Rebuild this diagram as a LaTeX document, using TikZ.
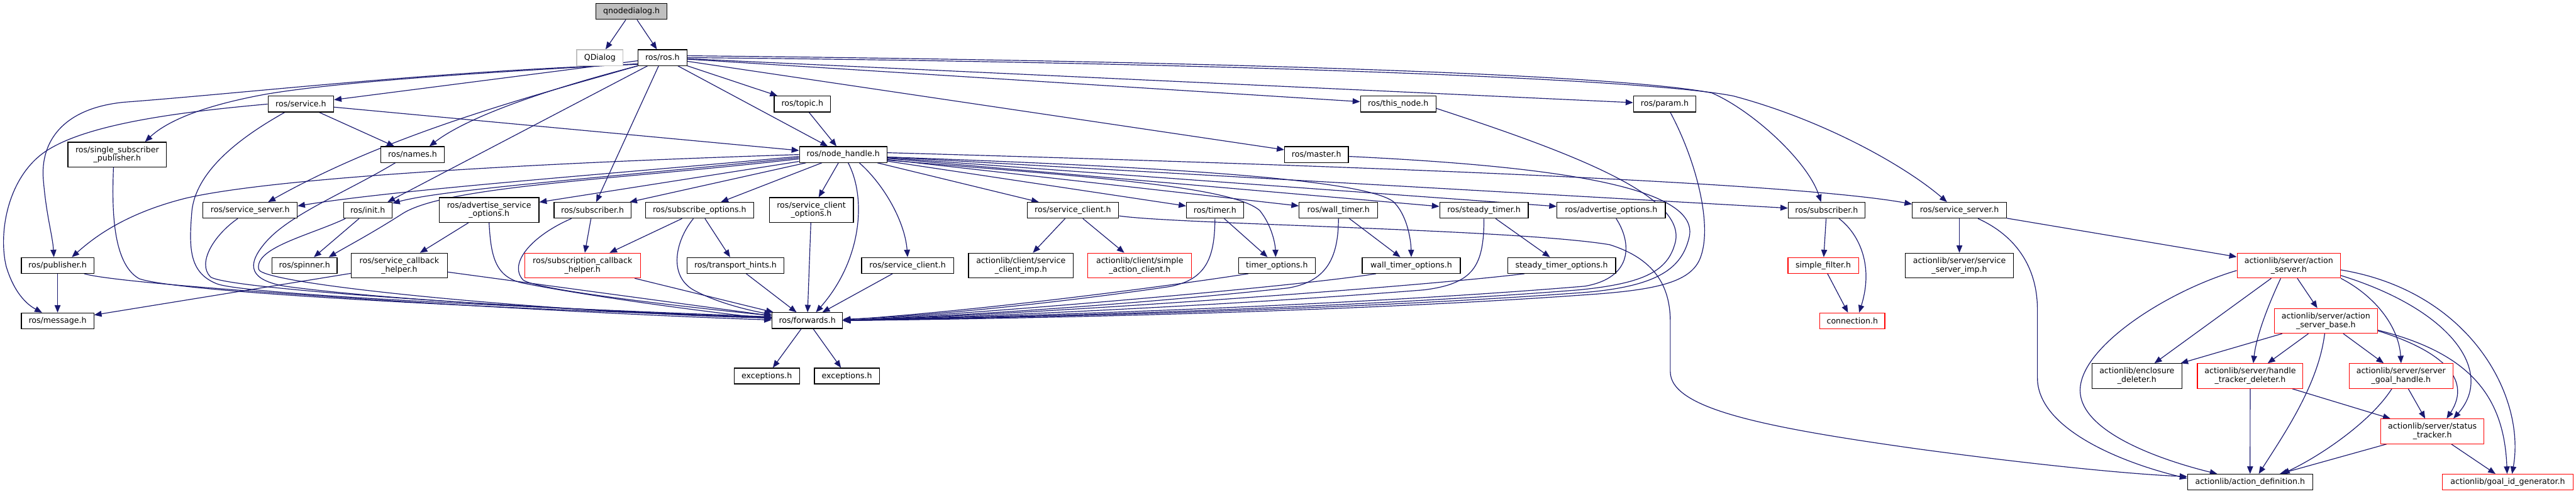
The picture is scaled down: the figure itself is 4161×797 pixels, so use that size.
\documentclass[tikz,border=0pt]{standalone}
\usepackage{fontspec}
\setmainfont{DejaVu Sans}
\usetikzlibrary{arrows.meta}
\definecolor{edgec}{HTML}{191970}
\definecolor{grayc}{HTML}{BFBFBF}
\pgfdeclarelayer{bg}
\pgfsetlayers{bg,main}
\begin{document}
\begin{tikzpicture}[x=1pt,y=-1pt,
 box/.style={draw=black,line width=1.2pt,fill=white,inner sep=0pt,minimum height=25.5pt,align=center,font=\fontsize{12.8pt}{14pt}\selectfont},
 two/.style={minimum height=40pt},
 trunc/.style={draw=red},
 ext/.style={draw=grayc},
 cur/.style={fill=grayc},
 edge/.style={draw=edgec,line width=1.2pt,-{Triangle[length=12pt,width=9.5pt]}}]
\useasboundingbox (0,0) rectangle (4161,797);
% row 0-2
\node[box,cur,minimum width=115pt] (qn) at (1020,18.5) {qnodedialog.h};
\node[box,ext,minimum width=75pt] (qd) at (969,93) {QDialog};
\node[box,minimum width=79pt] (ros) at (1070,93) {ros/ros.h};
\node[box,minimum width=106pt] (svc) at (486,168) {ros/service.h};
\node[box,minimum width=91pt] (topic) at (1296,168) {ros/topic.h};
\node[box,minimum width=122pt] (thisnode) at (2258.5,168) {ros/this\_node.h};
\node[box,minimum width=101pt] (param) at (2689,168) {ros/param.h};
% row 3
\node[box,two,minimum width=159pt] (sspub) at (189.3,249.5) {ros/single\_subscriber\\\_publisher.h};
\node[box,minimum width=103pt] (names) at (666.5,249.5) {ros/names.h};
\node[box,minimum width=141.5pt] (nh) at (1362,249.5) {ros/node\_handle.h};
\node[box,minimum width=103pt] (master) at (2126.5,249.5) {ros/master.h};
% row 4
\node[box,minimum width=152pt] (ssL) at (404,339.5) {ros/service\_server.h};
\node[box,minimum width=78.5pt] (init) at (594,339.5) {ros/init.h};
\node[box,two,minimum width=161pt] (aso) at (790,339) {ros/advertise\_service\\\_options.h};
\node[box,minimum width=124pt] (subL) at (957,339.5) {ros/subscriber.h};
\node[box,minimum width=175pt] (subopt) at (1130,339.5) {ros/subscribe\_options.h};
\node[box,two,minimum width=136pt] (sco) at (1310.5,339) {ros/service\_client\\\_options.h};
\node[box,minimum width=148pt] (scU) at (1733,339.5) {ros/service\_client.h};
\node[box,minimum width=92pt] (timer) at (1962.5,339.5) {ros/timer.h};
\node[box,minimum width=127pt] (wt) at (2162,339.5) {ros/wall\_timer.h};
\node[box,minimum width=143pt] (st) at (2397,339.5) {ros/steady\_timer.h};
\node[box,minimum width=175pt] (ao) at (2602.5,339.5) {ros/advertise\_options.h};
\node[box,minimum width=124pt] (subR) at (2950.5,339.5) {ros/subscriber.h};
\node[box,minimum width=152pt] (ssR) at (3165,339.5) {ros/service\_server.h};
% row 5
\node[box,minimum width=117pt] (pub) at (93,428.5) {ros/publisher.h};
\node[box,minimum width=105pt] (spin) at (492,428.5) {ros/spinner.h};
\node[box,two,minimum width=155pt] (scbh) at (645,428.7) {ros/service\_callback\\\_helper.h};
\node[box,two,trunc,minimum width=186.6pt] (subcbh) at (941,428.7) {ros/subscription\_callback\\\_helper.h};
\node[box,minimum width=156pt] (th) at (1188,428.5) {ros/transport\_hints.h};
\node[box,minimum width=148.6pt] (scL) at (1466,428.5) {ros/service\_client.h};
\node[box,two,minimum width=169pt] (scimp) at (1649,428.7) {actionlib/client/service\\\_client\_imp.h};
\node[box,two,trunc,minimum width=167.4pt] (sac) at (1841,428.7) {actionlib/client/simple\\\_action\_client.h};
\node[box,minimum width=124pt] (to) at (2062.5,428.5) {timer\_options.h};
\node[box,minimum width=158.5pt] (wto) at (2279.6,428.5) {wall\_timer\_options.h};
\node[box,minimum width=174.5pt] (sto) at (2522.5,428.5) {steady\_timer\_options.h};
\node[box,trunc,minimum width=114pt] (sf) at (2945,428.5) {simple\_filter.h};
\node[box,two,minimum width=175pt] (ssimp) at (3165,428.7) {actionlib/server/service\\\_server\_imp.h};
\node[box,two,trunc,minimum width=167pt] (as) at (3697,428.7) {actionlib/server/action\\\_server.h};
% row 6
\node[box,minimum width=117pt] (msg) at (93,518) {ros/message.h};
\node[box,minimum width=114pt] (fwd) at (1304,517.5) {ros/forwards.h};
\node[box,trunc,minimum width=105pt] (conn) at (2992,518) {connection.h};
\node[box,two,trunc,minimum width=166.5pt] (asb) at (3757,518) {actionlib/server/action\\\_server\_base.h};
% row 7
\node[box,minimum width=106pt] (exc1) at (1238.6,607) {exceptions.h};
\node[box,minimum width=105pt] (exc2) at (1368,607) {exceptions.h};
\node[box,two,minimum width=145.4pt] (encl) at (3451.7,607) {actionlib/enclosure\\\_deleter.h};
\node[box,two,trunc,minimum width=170.5pt] (htd) at (3634.7,607) {actionlib/server/handle\\\_tracker\_deleter.h};
\node[box,two,trunc,minimum width=168pt] (sgh) at (3878.4,607) {actionlib/server/server\\\_goal\_handle.h};
% row 8-9
\node[box,two,trunc,minimum width=166.5pt] (stt) at (3929,696.3) {actionlib/server/status\\\_tracker.h};
\node[box,minimum width=202pt] (ad) at (3634.5,778.3) {actionlib/action\_definition.h};
\node[box,trunc,minimum width=210.7pt] (gid) at (4050.7,778.3) {actionlib/goal\_id\_generator.h};

\begin{pgfonlayer}{bg}
\draw[edge] (qn) -- (qd);
\draw[edge] (qn) -- (ros);
% ros.h
\draw[edge] (ros) -- (svc);
\draw[edge] ([yshift=-10pt]ros.west) .. controls (820,115) and (560,130) .. (430,152) .. controls (330,170) and (270,195) .. ([xshift=45pt]sspub.north);
\draw[edge] ([yshift=-11pt]ros.west) .. controls (700,115) and (400,150) .. (200,165) .. controls (100,175) and (65,230) .. (70,290) .. controls (75,350) and (85,380) .. ([xshift=-6pt]pub.north);
\draw[edge] (ros.south west) .. controls (900,140) and (760,185) .. ([xshift=27pt]names.north);
\draw[edge] (ros.south west) .. controls (880,150) and (640,210) .. ([xshift=29pt]ssL.north);
\draw[edge] ([xshift=-24pt]ros.south) -- ([xshift=32pt]init.north);
\draw[edge] (ros) -- (subL);
\draw[edge] (ros) -- (nh);
\draw[edge] (ros) -- (topic);
\draw[edge] (topic) -- (nh);
\draw[edge] (ros) -- (master);
\draw[edge] (ros) -- (thisnode);
\draw[edge] (ros) -- (param);
\draw[edge] ([yshift=3pt]ros.east) .. controls (1900,98) and (2600,118) .. (2765,150) .. controls (2830,178) and (2920,260) .. ([xshift=-9pt]subR.north);
\draw[edge] (ros.east) .. controls (1900,100) and (2650,125) .. (2800,155) .. controls (2950,195) and (3080,270) .. ([xshift=-20pt]ssR.north);
% service.h
\draw[edge] (svc.west) .. controls (300,180) and (120,200) .. (60,255) .. controls (10,300) and (-2,380) .. (10,430) .. controls (25,480) and (50,495) .. ([xshift=-25pt]msg.north);
\draw[edge] (svc) -- (names);
\draw[edge] (svc) -- (nh);
\draw[edge] ([xshift=-26pt]svc.south) .. controls (400,215) and (318,270) .. (310,340) .. controls (305,400) and (305,440) .. (350,458) .. controls (400,478) and (1000,502) .. ([yshift=6pt]fwd.west);
% left bundle into forwards
\draw[edge] ([xshift=-6pt]sspub.south) .. controls (181,330) and (180,425) .. (225,450) .. controls (300,475) and (900,502) .. ([yshift=5pt]fwd.west);
\draw[edge] ([xshift=-28pt]names.south) .. controls (560,310) and (470,345) .. (430,390) .. controls (395,430) and (405,452) .. (460,462) .. controls (650,488) and (1050,505) .. ([yshift=4pt]fwd.west);
\draw[edge] ([xshift=-20pt]ssL.south) .. controls (345,380) and (318,425) .. (340,447) .. controls (370,470) and (1000,505) .. ([yshift=5pt]fwd.west);
\draw[edge] ([xshift=-36pt]init.south) .. controls (500,380) and (410,400) .. (418,435) .. controls (425,460) and (900,505) .. ([yshift=4pt]fwd.west);
\draw[edge] ([xshift=-14pt]init.south) -- ([xshift=15pt]spin.north);
\draw[edge] (pub) -- (msg);
\draw[edge] ([xshift=43pt]pub.south) .. controls (200,462) and (900,505) .. ([yshift=1pt]fwd.west);
\draw[edge] (scbh) -- (msg);
\draw[edge] (scbh) -- (fwd);
\draw[edge] (aso) -- (scbh);
\draw[edge] (aso.south) .. controls (793,415) and (800,450) .. (850,458) .. controls (950,478) and (1150,505) .. ([yshift=3pt]fwd.west);
\draw[edge] (subL) -- (subcbh);
\draw[edge] ([xshift=-34pt]subL.south) .. controls (860,380) and (820,425) .. (845,452) .. controls (870,470) and (1150,500) .. ([yshift=8pt]fwd.west);
\draw[edge] (subopt) -- (subcbh);
\draw[edge] (subopt) -- (th);
\draw[edge] ([xshift=-10pt]subopt.south) .. controls (1090,390) and (1080,445) .. (1120,468) .. controls (1160,490) and (1215,502) .. ([yshift=10pt]fwd.west);
\draw[edge] (subcbh) -- (fwd);
\draw[edge] (th) -- (fwd);
\draw[edge] (sco) -- (fwd);
\draw[edge] (scL) -- (fwd);
\draw[edge] (fwd) -- (exc1);
\draw[edge] (fwd) -- (exc2);
% node_handle.h
\draw[edge] ([xshift=8pt]nh.south) .. controls (1400,320) and (1392,420) .. ([xshift=14pt]fwd.north);
\draw[edge] (nh.west) .. controls (900,262) and (450,285) .. (300,320) .. controls (200,345) and (150,385) .. ([xshift=23pt]pub.north);
\draw[edge] ([yshift=-3pt]nh.west) .. controls (1000,280) and (650,305) .. ([yshift=7pt]ssL.east);
\draw[edge] ([yshift=-5pt]nh.west) .. controls (1000,285) and (720,305) .. ([yshift=-2pt]init.north east);
\draw[edge] ([yshift=-7pt]nh.west) .. controls (1000,290) and (720,300) .. (650,345) .. controls (600,377) and (560,398) .. ([xshift=39pt]spin.north);
\draw[edge] (nh) -- (aso);
\draw[edge] (nh) -- (subL);
\draw[edge] (nh) -- (subopt);
\draw[edge] (nh) -- (sco);
\draw[edge] ([xshift=26pt]nh.south) .. controls (1430,300) and (1462,360) .. (scL.north);
\draw[edge] (nh) -- (scU);
\draw[edge] (nh) -- (timer);
\draw[edge] ([yshift=-9pt]nh.east) .. controls (1750,285) and (1990,300) .. (2035,340) .. controls (2055,365) and (2060,395) .. ([xshift=-2pt]to.north);
\draw[edge] (nh) -- (wt);
\draw[edge] ([yshift=-4pt]nh.east) .. controls (1900,270) and (2200,290) .. (2250,325) .. controls (2272,345) and (2279,385) .. (wto.north);
\draw[edge] (nh) -- (st);
\draw[edge] (nh) -- (ao);
\draw[edge] (nh) -- (subR);
\draw[edge] ([yshift=3pt]nh.east) .. controls (2200,268) and (2900,295) .. ([yshift=10pt]ssR.west);
% right bundle into forwards
\draw[edge] (timer) -- (to);
\draw[edge] (timer.south) .. controls (1962,415) and (1950,455) .. (1880,464) .. controls (1700,490) and (1500,510) .. ([yshift=2pt]fwd.east);
\draw[edge] ([xshift=-46pt]to.south) .. controls (1900,460) and (1600,500) .. ([yshift=1pt]fwd.east);
\draw[edge] (wt) -- (wto);
\draw[edge] (wt.south) .. controls (2162,420) and (2140,455) .. (2080,465) .. controls (1800,495) and (1500,512) .. (fwd.east);
\draw[edge] ([xshift=-57pt]wto.south) .. controls (2100,462) and (1600,505) .. (fwd.east);
\draw[edge] (st) -- (sto);
\draw[edge] (st.south) .. controls (2397,430) and (2380,458) .. (2300,468) .. controls (2000,492) and (1600,511) .. (fwd.east);
\draw[edge] ([xshift=-60pt]sto.south) .. controls (2300,462) and (1700,506) .. (fwd.east);
\draw[edge] ([xshift=8pt]ao.south) .. controls (2635,390) and (2640,448) .. (2560,462) .. controls (2200,492) and (1700,509) .. (fwd.east);
\draw[edge] ([yshift=-7pt]thisnode.east) .. controls (2550,250) and (2730,320) .. (2705,395) .. controls (2692,440) and (2650,458) .. (2550,468) .. controls (2200,496) and (1700,511) .. (fwd.east);
\draw[edge] ([yshift=-3pt]master.east) .. controls (2500,268) and (2752,300) .. (2728,385) .. controls (2716,432) and (2680,462) .. (2560,472) .. controls (2200,499) and (1700,512) .. (fwd.east);
\draw[edge] ([xshift=9pt]param.south) .. controls (2740,260) and (2765,360) .. (2748,412) .. controls (2735,455) and (2680,468) .. (2560,476) .. controls (2200,502) and (1700,514) .. (fwd.east);
% actionlib service_client
\draw[edge] (scU) -- (scimp);
\draw[edge] (scU) -- (sac);
\draw[edge] ([yshift=-9pt]scU.east) .. controls (1900,362) and (2450,370) .. (2600,395) .. controls (2680,420) and (2698,470) .. (2698,520) -- (2698,600) .. controls (2698,660) and (2850,690) .. (3100,725) .. controls (3300,752) and (3450,766) .. ([yshift=9pt]ad.west);
% message_filters subscriber
\draw[edge] (subR) -- (sf);
\draw[edge] ([xshift=20pt]subR.south) .. controls (3000,375) and (3028,425) .. ([xshift=11pt]conn.north);
\draw[edge] (sf) -- (conn);
% actionlib service_server
\draw[edge] (ssR) -- (ssimp);
\draw[edge] ([xshift=30pt]ssR.south) .. controls (3255,380) and (3291,430) .. (3291,500) -- (3291,610) .. controls (3291,690) and (3420,745) .. ([yshift=6pt]ad.west);
\draw[edge] (ssR) -- (as);
% action_server
\draw[edge] (as) -- (encl);
\draw[edge] ([yshift=-8pt]as.west) .. controls (3500,470) and (3360,560) .. (3360,630) .. controls (3360,700) and (3500,745) .. ([xshift=-53pt]ad.north);
\draw[edge] ([xshift=-13pt]as.south) .. controls (3665,490) and (3645,540) .. ([xshift=5pt]htd.north);
\draw[edge] (as) -- (asb);
\draw[edge] (as.south east) .. controls (3840,480) and (3875,530) .. (sgh.north);
\draw[edge] ([yshift=-16pt]as.east) .. controls (3960,500) and (4030,600) .. ([xshift=34pt]stt.north);
\draw[edge] ([yshift=-7pt]as.east) .. controls (3990,470) and (4080,640) .. ([xshift=7pt]gid.north);
% action_server_base
\draw[edge] (asb) -- (encl);
\draw[edge] (asb) -- (htd);
\draw[edge] ([xshift=-2pt]asb.south) .. controls (3745,620) and (3690,700) .. ([xshift=14pt]ad.north);
\draw[edge] (asb) -- (sgh);
\draw[edge] ([yshift=-16pt]asb.east) .. controls (3940,565) and (3995,610) .. ([xshift=23pt]stt.north);
\draw[edge] ([yshift=-15pt]asb.east) .. controls (3990,570) and (4045,640) .. ([xshift=-1pt]gid.north);
% lower actionlib
\draw[edge] (htd) -- (ad);
\draw[edge] (htd) -- (stt);
\draw[edge] ([xshift=-15pt]sgh.south) .. controls (3830,680) and (3750,735) .. ([xshift=52pt]ad.north);
\draw[edge] (sgh) -- (stt);
\draw[edge] (stt) -- (ad);
\draw[edge] (stt) -- (gid);
\end{pgfonlayer}
\end{tikzpicture}
\end{document}
